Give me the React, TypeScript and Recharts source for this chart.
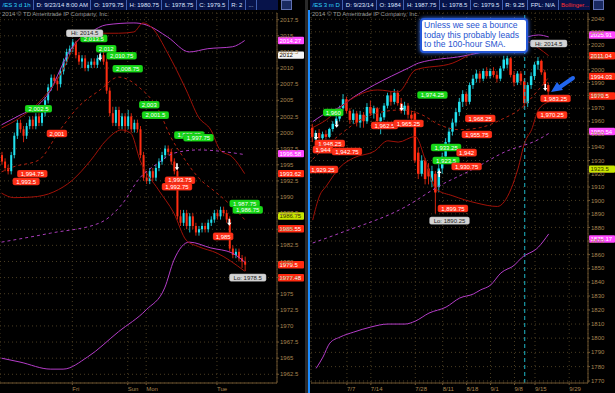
import React from "react";
import {
  ComposedChart,
  Bar,
  Line,
  XAxis,
  YAxis,
  CartesianGrid,
  ReferenceLine,
  ReferenceDot,
} from "recharts";

type Ohlc = [number, number, number, number];
type Pt = [number, number];

// ---- left panel: /ES 3 day, hourly bars (open, high, low, close) ----
const leftCandles: Ohlc[] = [
  [1996.5, 1997, 1995, 1995.5], [1995.5, 1996, 1994, 1994.5], [1994.5, 1995, 1993.5, 1994],
  [1994, 1997, 1993.5, 1996.5], [1996.5, 2000, 1996, 1999.5], [1999.5, 2002, 1999, 2001.5],
  [2001.5, 2002, 2000, 2000.5], [2000.5, 2001, 1998.5, 1999.5], [1999.5, 2001.5, 1999, 2001],
  [2001, 2002.5, 2000.5, 2002], [2002, 2002.5, 2000.5, 2001], [2001, 2003, 2000.5, 2002.5],
  [2002.5, 2003, 2001, 2001.5], [2001.5, 2003.5, 2001, 2003], [2003, 2005.5, 2002.5, 2005],
  [2005, 2007.5, 2004.5, 2007], [2007, 2009, 2006.5, 2008.5], [2008.5, 2009, 2007.5, 2008],
  [2008, 2008.5, 2006.5, 2007.5], [2007.5, 2010, 2007, 2009.5], [2009.5, 2011.5, 2009, 2011],
  [2011, 2013, 2010.5, 2012.5], [2012.5, 2013.5, 2012, 2013], [2013, 2014.5, 2012.5, 2014],
  [2014, 2014.25, 2011.5, 2012], [2012, 2012.5, 2010.5, 2011], [2011, 2012, 2010, 2011.5],
  [2011.5, 2012, 2009.5, 2010], [2010, 2011, 2009.5, 2010.5], [2010.5, 2011.5, 2010, 2011],
  [2011, 2011.5, 2010, 2010.5], [2010.5, 2012, 2010, 2011.5], [2011.5, 2012.5, 2011, 2012],
  [2012, 2012.5, 2010.5, 2011], [2011, 2011.5, 2006, 2006.5], [2006.5, 2007, 2002.5, 2003],
  [2003, 2004, 2001, 2001.5], [2001.5, 2004, 2001, 2003.5], [2003.5, 2004, 2000.5, 2001],
  [2001, 2003, 2000.5, 2002.5], [2002.5, 2003, 2000, 2001], [2001, 2003.5, 2000.5, 2002.5],
  [2002.5, 2003, 2000, 2000.5], [2000.5, 2002, 2000, 2001.5], [2001.5, 2002, 2000, 2000.5],
  [2000.5, 2001, 1996, 1996.5], [1996.5, 1997, 1992.5, 1993], [1993, 1994, 1992, 1992.5],
  [1992.5, 1994.5, 1992, 1994], [1994, 1994.5, 1992.5, 1993], [1993, 1995, 1992.5, 1994.5],
  [1994.5, 1996, 1994, 1995.5], [1995.5, 1997, 1995, 1996.5], [1996.5, 1998, 1996, 1997.5],
  [1997.5, 1998, 1996.5, 1997], [1997, 1997.5, 1995, 1995.5], [1995.5, 1996, 1993.5, 1994],
  [1994, 1994.5, 1986.5, 1987], [1987, 1988, 1985.5, 1986], [1986, 1988, 1985.5, 1987.5],
  [1987.5, 1988, 1985, 1985.5], [1985.5, 1987.5, 1984.5, 1987], [1987, 1987.5, 1985, 1985.5],
  [1985.5, 1986, 1984, 1984.5], [1984.5, 1985.5, 1984, 1985], [1985, 1986, 1984.5, 1985.5],
  [1985.5, 1986, 1984.5, 1985], [1985, 1986.5, 1984.5, 1986], [1986, 1987, 1985.5, 1986.5],
  [1986.5, 1988, 1986, 1987.5], [1987.5, 1988, 1986.5, 1987], [1987, 1988.5, 1986.5, 1988],
  [1988, 1988.5, 1987, 1987.5], [1987.5, 1988, 1986, 1986.5], [1986.5, 1987, 1981.5, 1982],
  [1982, 1982.5, 1980.5, 1981], [1981, 1982, 1980.5, 1981.5], [1981.5, 1982, 1980, 1980.5],
  [1980.5, 1981, 1979, 1980], [1980, 1980.75, 1978.5, 1979.5],
];

// ---- right panel: /ES 3 month, daily bars ----
const rightCandles: Ohlc[] = [
  [1955, 1958, 1944, 1948], [1946, 1953, 1944, 1951], [1951, 1954, 1945, 1947],
  [1947, 1952, 1945, 1950], [1950, 1953, 1946, 1948], [1948, 1955, 1947, 1954],
  [1954, 1960, 1952, 1958], [1958, 1964, 1956, 1962], [1962, 1972, 1960, 1970],
  [1970, 1981, 1968, 1977], [1977, 1979, 1966, 1968], [1968, 1970, 1958, 1961],
  [1961, 1969, 1958, 1966], [1966, 1968, 1956, 1959], [1959, 1968, 1955, 1965],
  [1965, 1967, 1955, 1960], [1960, 1974, 1958, 1971], [1971, 1976, 1964, 1966],
  [1966, 1972, 1962, 1970], [1970, 1971, 1958, 1960], [1960, 1966, 1950, 1963],
  [1963, 1974, 1961, 1972], [1972, 1982, 1970, 1980], [1980, 1983, 1972, 1975],
  [1975, 1985, 1973, 1982], [1982, 1984, 1972, 1974], [1974, 1978, 1966, 1968],
  [1968, 1975, 1965, 1972], [1972, 1974, 1962, 1965], [1965, 1968, 1958, 1962],
  [1966, 1968, 1928, 1930], [1936, 1940, 1916, 1920], [1920, 1934, 1918, 1930],
  [1930, 1932, 1912, 1916], [1924, 1928, 1912, 1918], [1914, 1926, 1910, 1922],
  [1920, 1922, 1890.25, 1906], [1910, 1928, 1906, 1924], [1924, 1936, 1920, 1933],
  [1933, 1947, 1930, 1944], [1944, 1955, 1941, 1952], [1952, 1962, 1949, 1959],
  [1959, 1970, 1956, 1967], [1967, 1978, 1964, 1975], [1975, 1984, 1971, 1981],
  [1981, 1983, 1972, 1975], [1975, 1990, 1973, 1988], [1988, 1996, 1985, 1993],
  [1993, 2000, 1990, 1997], [1997, 1999, 1990, 1993], [1993, 2001, 1991, 1999],
  [1999, 2002, 1993, 1995], [1995, 2001, 1993, 1999], [1999, 2002, 1994, 1996],
  [1996, 1999, 1990, 1993], [1993, 2003, 1991, 2001], [2001, 2011, 1999, 2008],
  [2004, 2011, 2001, 2009], [2009, 2010, 1994, 1996], [1996, 1999, 1987, 1990],
  [1990, 1999, 1988, 1997], [1997, 1999, 1988, 1991], [1991, 1993, 1970, 1974],
  [1974, 1990, 1971, 1988], [1988, 1998, 1985, 1995], [1995, 2006, 1992, 2004],
  [2004, 2010, 2000, 2007], [2007, 2008, 1996, 1998], [1998, 2000, 1986, 1988],
  [1988, 1990, 1978.5, 1983],
];

const leftSlots = 90;
const rightSlots = 81;

const leftTickSlots = [23, 41, 47, 70];
const leftTickLabels = ["Fri", "Sun", "Mon", "Tue"];
const rightTickSlots = [10, 17, 30, 38, 45, 52, 59, 65, 75];
const rightTickLabels = ["7/7", "7/14", "7/28", "8/11", "8/18", "9/1", "9/8", "9/15", "9/29"];

const leftPriceTicks = [
  2017.5, 2015, 2012.5, 2010, 2007.5, 2005, 2002.5, 2000, 1997.5, 1995, 1992.5, 1990,
  1987.5, 1985, 1982.5, 1980, 1977.5, 1975, 1972.5, 1970, 1967.5, 1965, 1962.5,
];
const rightPriceTicks = [
  2040, 2030, 2020, 2010, 2000, 1990, 1980, 1970, 1960, 1950, 1940, 1930, 1920, 1910,
  1900, 1890, 1880, 1870, 1860, 1850, 1840, 1830, 1820, 1810, 1800, 1790, 1780, 1770,
];

// studies, [slot, price]
const leftUpperMag: Pt[] = [[0, 2001.2], [6, 2002.7], [12, 2004.3], [16, 2006.6], [19, 2009.7], [21, 2011.7], [25, 2014.4], [29, 2015.6], [34, 2016.7], [43, 2017.0], [47, 2016.7], [54, 2014.8], [61, 2012.5], [67, 2013.0], [75, 2013.3], [79, 2014.27]];
const leftUpperRed: Pt[] = [[0, 2000.7], [6, 2002.3], [12, 2004.6], [19, 2008.9], [25, 2014.4], [28, 2015.4], [38, 2015.4], [43, 2015.6], [46, 2017.0], [49, 2016.2], [54, 2012.3], [60, 2006.6], [64, 2002.4], [68, 2000.4], [71, 1997.3], [75, 1996.2], [79, 1993.62]];
const leftLowerRed: Pt[] = [[0, 1990.6], [4, 1989.9], [10, 1990.0], [17, 1990.8], [23, 1992.6], [29, 1995.7], [34, 1998.8], [39, 2000.4], [42, 1999.9], [45, 1995.7], [51, 1991.1], [56, 1987.5], [60, 1983.3], [64, 1982.3], [70, 1981.3], [79, 1978.5]];
const leftMidRed: Pt[] = [[0, 1993.9], [4, 1994.7], [12, 1995.7], [19, 2000.4], [25, 2004.0], [32, 2006.6], [38, 2008.6], [45, 2006.9], [51, 2003.5], [55, 1999.3], [59, 1996.2], [64, 1993.0], [70, 1990.6], [75, 1988.5], [79, 1986.5]];
const leftMidMag: Pt[] = [[0, 1983.0], [16, 1984.4], [32, 1986.0], [39, 1988.8], [45, 1993.0], [51, 1995.3], [56, 1996.8], [64, 1997.3], [79, 1996.58]];
const leftLowerMag: Pt[] = [[0, 1965.0], [6, 1964.4], [16, 1963.3], [20, 1963.3], [28, 1965.2], [38, 1969.1], [47, 1972.5], [53, 1975.9], [56, 1980.2], [61, 1983.0], [68, 1982.1], [75, 1981.3], [79, 1979.9]];

const rightUpperMag: Pt[] = [[0, 1959.6], [3, 1964.9], [8, 1971.0], [12, 1978.7], [18, 1988.1], [28, 2001.4], [31, 2005.3], [44, 2010.8], [52, 2015.6], [60, 2023.5], [66, 2027.5], [69, 2025.91]];
const rightUpperRed: Pt[] = [[0, 1955.1], [4, 1961.1], [10, 1974.9], [19, 1984.2], [25, 1982.6], [30, 1999.8], [41, 2005.3], [47, 2013.2], [52, 2017.9], [56, 2023.5], [61, 2023.5], [66, 2017.1], [69, 2011.04]];
const rightLowerRed: Pt[] = [[0, 1885.4], [2, 1903.4], [4, 1910.8], [8, 1925.0], [12, 1932.0], [18, 1937.0], [22, 1945.0], [25, 1944.0], [30, 1948.3], [33, 1930.0], [36, 1908.6], [41, 1903.4], [48, 1898.0], [54, 1895.5], [58, 1908.6], [60, 1923.6], [62, 1943.7], [64, 1953.5], [66, 1968.7], [69, 1974.9]];
const rightMidRed: Pt[] = [[0, 1931.0], [8, 1949.8], [17, 1964.9], [26, 1968.7], [32, 1964.9], [37, 1957.3], [43, 1953.5], [49, 1955.1], [55, 1961.1], [61, 1970.2], [66, 1984.2], [69, 1994.03]];
const rightMidMag: Pt[] = [[0, 1868.5], [8, 1875.8], [27, 1895.1], [37, 1910.8], [47, 1923.6], [56, 1936.3], [66, 1946.0], [69, 1950.54]];
const rightLowerMag: Pt[] = [[1, 1778.8], [3, 1786.7], [5, 1796.5], [8, 1800.8], [12, 1804.3], [17, 1807.9], [22, 1810.0], [27, 1810.0], [30, 1812.1], [34, 1817.8], [39, 1822.1], [43, 1828.6], [47, 1831.5], [49, 1834.3], [52, 1837.9], [55, 1846.6], [59, 1852.4], [61, 1857.5], [66, 1865.5], [69, 1875.17]];

// price bubbles: slot, price, text, kind
type Note = [number, number, string, string];
const leftNotes: Note[] = [
  [61, 1999.6, "1,998.25", "g"], [64, 1999.2, "1,997.75", "g"],
  [30, 2014.6, "2,013.5", "g"], [34, 2013.0, "2,012", "g"], [39, 2011.9, "2,010.75", "g"],
  [41, 2009.9, "2,008.75", "g"], [12, 2003.7, "2,002.5", "g"], [48, 2004.3, "2,003", "g"],
  [50, 2002.7, "2,001.5", "g"], [79, 1989.0, "1,987.75", "g"], [80, 1988.0, "1,986.75", "g"],
  [18, 1999.85, "2,001", "r"], [10, 1993.6, "1,994.75", "r"], [8, 1992.4, "1,993.5", "r"],
  [58, 1992.6, "1,993.75", "r"], [57, 1991.6, "1,992.75", "r"], [72, 1983.9, "1,985", "r"],
  [27, 2015.4, "Hi: 2014.5", "w"], [80, 1977.5, "Lo: 1978.5", "w"],
];
const rightNotes: Note[] = [
  [6, 1966.7, "1,960", "g"], [35, 1980.3, "1,974.25", "g"], [39, 1939.9, "1,933.25", "g"],
  [39, 1930.0, "1,923.5", "g"], [5, 1942.9, "1,948.25", "r"], [3, 1938.3, "1,944", "r"],
  [10, 1936.8, "1,942.75", "r"], [3, 1923.2, "1,929.25", "r"], [21, 1956.7, "1,962.5", "r"],
  [28, 1958.2, "1,965.25", "r"], [49, 1962.1, "1,968.25", "r"], [48, 1949.8, "1,955.75", "r"],
  [45, 1936.0, "1,942", "r"], [45, 1925.5, "1,930.75", "r"], [41, 1894.0, "1,899.75", "r"],
  [71, 1977.5, "1,983.25", "r"], [70, 1964.8, "1,970.25", "r"],
  [69, 2020.7, "Hi: 2014.5", "w"], [40, 1885.0, "Lo: 1890.25", "w"],
];

// signal arrows: slot, price, direction
const leftSignals: [number, number, string][] = [[32, 2011.6, "down"], [57, 1994.6, "down"], [74, 1986.0, "down"]];
const rightSignals: [number, number, string][] = [[1, 1947.9, "down"], [7, 1957.3, "down"], [26, 1970.2, "down"], [37, 1920.5, "up"], [68, 1985.7, "down"]];

// price tags on the axis: value, text, kind
const leftTags: [number, string, string][] = [
  [2014.27, "2014.27", "m"], [2012, "2012", "w"], [1996.58, "1996.58", "m"], [1993.62, "1993.62", "r"],
  [1986.75, "1986.75", "y"], [1985.55, "1985.55", "r"], [1979.5, "1979.5", "r"], [1977.48, "1977.48", "r"],
];
const rightTags: [number, string, string][] = [
  [2025.91, "2025.91", "m"], [2011.04, "2011.04", "r"], [1994.03, "1994.03", "r"], [1979.5, "1979.5", "r"],
  [1950.54, "1950.54", "m"], [1923.5, "1923.5", "y"], [1875.17, "1875.17", "m"],
];
// small vertical nudges so stacked tags do not collide (pixels)
const leftTagNudge = [0, 0, -1, 0, -2, 3, 0, 0];
const rightTagNudge = [-2, 0, -1, 0, -2, 0, 5];

const leftHeader = ["/ES 3 d 1h", "D: 9/23/14 8:00 AM", "O: 1979.75", "H: 1980.75", "L: 1978.75", "C: 1979.5", "R: 2", "..."];
const rightHeader = ["/ES 3 m D", "D: 9/23/14", "O: 1984", "H: 1987.75", "L: 1978.5", "C: 1979.5", "R: 9.25", "FPL: N/A", "Bollinger..."];

const FONT = '"Liberation Sans", Arial, sans-serif';
const UP = "#22e2f0";
const DOWN = "#ff2d12";
const AXIS = "#6e5530";
const TICK = "#a88550";
const MAG = "#b43cc8";
const DRED = "#a01208";

const noteColors: Record<string, [string, string]> = {
  g: ["#18d818", "#ffffff"],
  r: ["#ff3018", "#ffffff"],
  w: ["#d4d4d4", "#222222"],
};
const tagColors: Record<string, [string, string]> = {
  m: ["#ff48ff", "#ffffff"],
  r: ["#ff2a10", "#ffffff"],
  w: ["#f4f4f4", "#000000"],
  y: ["#c8e400", "#303000"],
};

function buildRows(n: number, candles: Ohlc[], studies: Record<string, Pt[]>) {
  const rows: any[] = [];
  for (let i = 0; i < n; i++) rows.push({ i });
  candles.forEach(([o, h, l, c], i) => Object.assign(rows[i], { o, h, l, c }));
  Object.entries(studies).forEach(([key, pts]) => {
    pts.forEach(([s, v]) => {
      rows[s][key] = v;
    });
  });
  return rows;
}

function Candle(props: any) {
  const { x, y, width, height, payload } = props;
  if (!payload || payload.o == null || !height) return null;
  const { o, h, l, c } = payload;
  const k = height / (h - l);
  const yo = y + (h - o) * k;
  const yc = y + (h - c) * k;
  const col = c >= o ? UP : DOWN;
  const mid = x + width / 2;
  return (
    <g>
      <line x1={mid} x2={mid} y1={y} y2={y + height} stroke={col} strokeWidth={0.8} />
      <rect x={x} y={Math.min(yo, yc)} width={width} height={Math.max(1, Math.abs(yc - yo))} fill={col} />
    </g>
  );
}

function Bubble(props: any) {
  const { cx, cy, text, kind } = props;
  if (cx == null || cy == null) return null;
  const [bg, fg] = noteColors[kind];
  const w = text.length * 3.3 + 4;
  return (
    <g>
      <rect x={cx - w / 2} y={cy - 3.8} width={w} height={7.6} rx={2} fill={bg} stroke="#000" strokeOpacity={0.4} strokeWidth={0.4} />
      <text x={cx} y={cy + 2.2} textAnchor="middle" fontSize={6} fill={fg} fontFamily={FONT}>
        {text}
      </text>
    </g>
  );
}

function Signal(props: any) {
  const { cx, cy, dir } = props;
  if (cx == null || cy == null) return null;
  const s = dir === "down" ? 1 : -1;
  const d = `M${cx - 0.8},${cy - 4 * s} L${cx + 0.8},${cy - 4 * s} L${cx + 0.8},${cy} L${cx + 2.2},${cy} L${cx},${cy + 3 * s} L${cx - 2.2},${cy} L${cx - 0.8},${cy} Z`;
  return <path d={d} fill="#ffffff" />;
}

function Tag(props: any) {
  const { viewBox, text, kind, nudge } = props;
  if (!viewBox) return null;
  const [bg, fg] = tagColors[kind];
  const x = viewBox.x + viewBox.width + 1;
  const y = viewBox.y + (nudge || 0);
  return (
    <g>
      <rect x={x} y={y - 3.7} width={26} height={7.4} rx={1} fill={bg} />
      <text x={x + 1.5} y={y + 2.2} fontSize={6} fill={fg} fontFamily={FONT}>
        {text}
      </text>
    </g>
  );
}

function DateTick(props: any) {
  const { x, y, payload, slots, labels } = props;
  const label = labels[slots.indexOf(payload.value)];
  return (
    <text x={x} y={y + 4} fontSize={6} fill={TICK} fontFamily={FONT}>
      {label}
    </text>
  );
}

function Header({ cells, left, width }: { cells: string[]; left: number; width: number }) {
  return (
    <div
      style={{
        position: "absolute",
        left,
        top: 0,
        width,
        height: 10,
        background: "#07134a",
        display: "flex",
        fontFamily: FONT,
        fontSize: 6,
        lineHeight: "10px",
        overflow: "hidden",
        whiteSpace: "nowrap",
      }}
    >
      {cells.map((c, k) => (
        <div
          key={k}
          style={{
            padding: "0 2.5px",
            borderRight: "1px solid #4060b0",
            color: k === 0 ? "#30d8ff" : c.startsWith("Bollinger") ? "#ff3030" : "#dde4ff",
          }}
        >
          {c}
        </div>
      ))}
    </div>
  );
}

const studyStyle: [string, string, string | undefined][] = [
  ["um", MAG, undefined],
  ["lm", MAG, undefined],
  ["ur", DRED, undefined],
  ["lr", DRED, undefined],
  ["mr", "#b0200e", "3 3"],
  ["mm", "#a83cb8", "3 3"],
];

function Panel(props: {
  rows: any[];
  width: number;
  axisWidth: number;
  marginLeft: number;
  domain: [number, number];
  log: boolean;
  priceTicks: number[];
  tickSlots: number[];
  tickLabels: string[];
  notes: Note[];
  signals: [number, number, string][];
  tags: [number, string, string][];
  tagNudge: number[];
  barSize: number;
  cursorSlot?: number;
}) {
  const p = props;
  return (
    <ComposedChart width={p.width} height={393} data={p.rows} margin={{ top: 13, right: 0, bottom: 0, left: p.marginLeft }}>
      <CartesianGrid stroke="#4a3d22" strokeDasharray="1 3" />
      <XAxis
        dataKey="i"
        height={10}
        ticks={p.tickSlots}
        interval={0}
        tickSize={2}
        tickLine={{ stroke: AXIS }}
        axisLine={{ stroke: AXIS }}
        tick={<DateTick slots={p.tickSlots} labels={p.tickLabels} />}
      />
      <YAxis
        orientation="right"
        width={p.axisWidth}
        scale={p.log ? "log" : "linear"}
        domain={p.domain}
        allowDataOverflow
        ticks={p.priceTicks}
        interval={0}
        tickSize={2}
        tickMargin={1}
        tickLine={{ stroke: AXIS }}
        axisLine={{ stroke: AXIS }}
        tick={{ fill: TICK, fontSize: 6, fontFamily: FONT }}
      />
      {p.cursorSlot != null && (
        <ReferenceLine x={p.cursorSlot} stroke="#1fb8c8" strokeDasharray="4 3" strokeWidth={1} />
      )}
      {studyStyle.map(([key, color, dash]) => (
        <Line
          key={key}
          dataKey={key}
          type="monotone"
          stroke={color}
          strokeWidth={1}
          strokeDasharray={dash}
          dot={false}
          connectNulls
          isAnimationActive={false}
        />
      ))}
      <Bar
        dataKey={(d: any) => (d.o == null ? null : [d.l, d.h])}
        barSize={p.barSize}
        shape={<Candle />}
        isAnimationActive={false}
      />
      {p.tags.map(([v, text, kind], k) => (
        <ReferenceLine
          key={"t" + k}
          y={v}
          stroke="none"
          ifOverflow="visible"
          label={<Tag text={text} kind={kind} nudge={p.tagNudge[k]} />}
        />
      ))}
      {p.signals.map(([s, v, dir], k) => (
        <ReferenceDot key={"s" + k} x={s} y={v} r={0} ifOverflow="visible" shape={(q: any) => <Signal {...q} dir={dir} />} />
      ))}
      {p.notes.map(([s, v, text, kind], k) => (
        <ReferenceDot key={"n" + k} x={s} y={v} r={0} ifOverflow="visible" shape={(q: any) => <Bubble {...q} text={text} kind={kind} />} />
      ))}
    </ComposedChart>
  );
}

export default function App() {
  const leftRows = buildRows(leftSlots, leftCandles, {
    um: leftUpperMag, ur: leftUpperRed, lr: leftLowerRed, mr: leftMidRed, mm: leftMidMag, lm: leftLowerMag,
  });
  const rightRows = buildRows(rightSlots, rightCandles, {
    um: rightUpperMag, ur: rightUpperRed, lr: rightLowerRed, mr: rightMidRed, mm: rightMidMag, lm: rightLowerMag,
  });

  return (
    <div style={{ position: "fixed", left: 0, top: 0, width: 615, height: 393, background: "#000", overflow: "hidden" }}>
      <div style={{ position: "absolute", left: 0, top: 0 }}>
        <Panel
          rows={leftRows}
          width={305}
          axisWidth={28}
          marginLeft={0}
          domain={[1961.15, 2018.54]}
          log={false}
          priceTicks={leftPriceTicks}
          tickSlots={leftTickSlots}
          tickLabels={leftTickLabels}
          notes={leftNotes}
          signals={leftSignals}
          tags={leftTags}
          tagNudge={leftTagNudge}
          barSize={2}
        />
      </div>
      <div style={{ position: "absolute", left: 305, top: 0, width: 3, height: 393, background: "#2a2a2a" }} />
      <div style={{ position: "absolute", left: 308, top: 0 }}>
        <Panel
          rows={rightRows}
          width={307}
          axisWidth={27}
          marginLeft={3}
          domain={[1768.6, 2045.05]}
          log={true}
          priceTicks={rightPriceTicks}
          tickSlots={rightTickSlots}
          tickLabels={rightTickLabels}
          notes={rightNotes}
          signals={rightSignals}
          tags={rightTags}
          tagNudge={rightTagNudge}
          barSize={2.5}
          cursorSlot={62}
        />
      </div>
      <div style={{ position: "absolute", left: 308, top: 10, width: 1.5, height: 383, background: "#1c8cff" }} />
      <Header cells={leftHeader} left={0} width={278} />
      <Header cells={rightHeader} left={310} width={280} />
      <div style={{ position: "absolute", left: 281, top: 0, width: 9, height: 8, background: "#1a2a60", border: "1px solid #6070b0" }} />
      <div style={{ position: "absolute", left: 593, top: 0, width: 9, height: 8, background: "#1a2a60", border: "1px solid #6070b0" }} />
      <div style={{ position: "absolute", left: 2, top: 11, fontFamily: FONT, fontSize: 6, color: "#9a9a9a" }}>
        2014 © TD Ameritrade IP Company, Inc.
      </div>
      <div style={{ position: "absolute", left: 312, top: 11, fontFamily: FONT, fontSize: 6, color: "#9a9a9a" }}>
        2014 © TD Ameritrade IP Company, Inc.
      </div>
      <div
        style={{
          position: "absolute",
          left: 420,
          top: 18,
          width: 100,
          height: 29,
          background: "#ffffff",
          border: "2px solid #2658d8",
          borderRadius: 4,
          boxShadow: "0 0 4px #3f7bff",
          color: "#1f55d0",
          fontFamily: FONT,
          fontSize: 8.6,
          lineHeight: "9.6px",
          padding: "1px 2px",
          whiteSpace: "nowrap",
        }}
      >
        Unless we see a bounce
        <br />
        today this probably leads
        <br />
        to the 100-hour SMA.
      </div>
      <svg style={{ position: "absolute", left: 548, top: 74 }} width={28} height={22}>
        <path d="M25,4 L12,13" stroke="#2266ee" strokeWidth={4} strokeLinecap="round" />
        <path d="M3,18 L9,8 L15,16 Z" fill="#2266ee" />
      </svg>
    </div>
  );
}
